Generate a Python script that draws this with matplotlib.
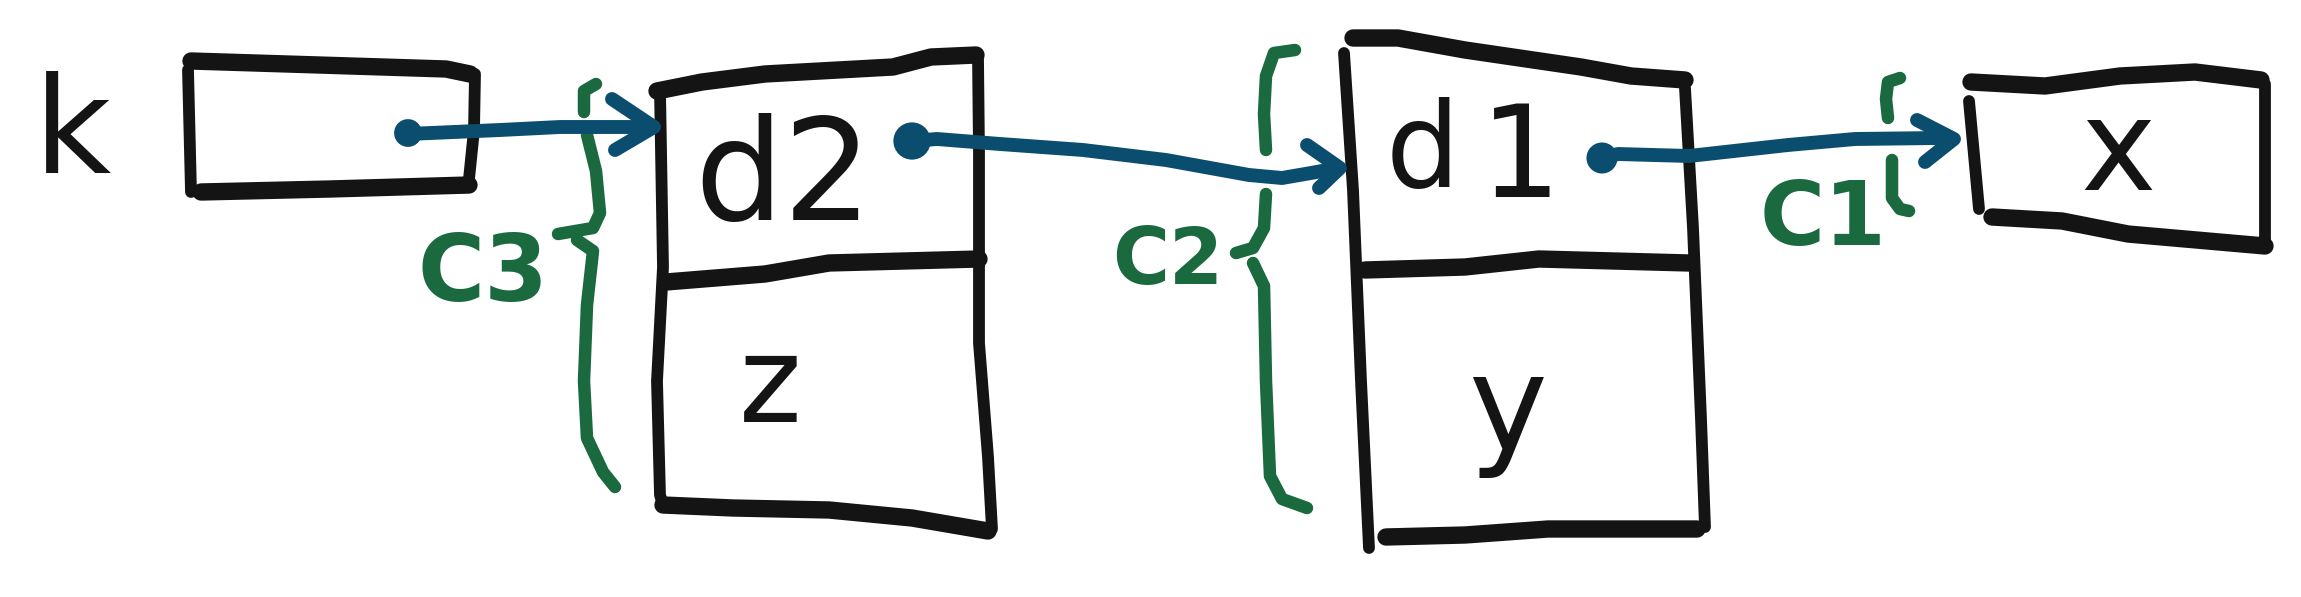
import matplotlib
import matplotlib.pyplot as plt

matplotlib.use("Agg")

# ink colours
BLACK = "#141414"
BLUE = "#0b4d6e"
GREEN = "#1b6a3f"

# hand-drawn outline strokes (pixel coords of the sketch, y grows downward)
box_k = [
    [(191, 61), (319, 65), (446, 69), (470, 74)],
    [(188, 70), (191, 192)],
    [(475, 74), (474, 130), (469, 179)],
    [(201, 192), (330, 189), (469, 185)],
]
node_d2 = [
    [(657, 91), (702, 82), (765, 74), (893, 67), (931, 57), (976, 55)],
    [(660, 91), (663, 267), (657, 381), (660, 495), (663, 505)],
    [(978, 57), (979, 152), (979, 343), (988, 457), (992, 529)],
    [(663, 505), (733, 508), (829, 510), (912, 518), (988, 531)],
    [(666, 282), (765, 274), (829, 263), (979, 259)],
]
node_d1 = [
    [(1353, 38), (1398, 38), (1465, 50), (1581, 67), (1631, 76), (1685, 80)],
    [(1344, 53), (1353, 190), (1361, 381), (1369, 548)],
    [(1685, 88), (1693, 228), (1701, 419), (1705, 527)],
    [(1365, 270), (1465, 267), (1539, 259), (1689, 263)],
    [(1386, 537), (1465, 535), (1548, 529), (1697, 529)],
]
box_x = [
    [(1971, 82), (2045, 86), (2120, 76), (2195, 72), (2261, 80)],
    [(1969, 101), (1979, 209)],
    [(2265, 84), (2265, 244)],
    [(1992, 217), (2062, 221), (2128, 234), (2265, 246)],
]

# pointers: dot, shaft, arrow head
dots = [(408, 133), (912, 141), (1602, 158)]
dot_sizes = [400, 720, 500]
shafts = [
    [(408, 134), (500, 130), (560, 127), (640, 127)],
    [(912, 141), (937, 139), (1000, 144), (1083, 150), (1166, 160), (1249, 175), (1282, 178), (1311, 173), (1338, 168)],
    [(1602, 158), (1618, 154), (1689, 156), (1788, 145), (1855, 139), (1938, 138), (1952, 139)],
]
heads = [
    [(612, 99), (654, 127), (615, 150)],
    [(1307, 145), (1340, 168), (1319, 188)],
    [(1917, 120), (1954, 139), (1925, 162)],
]

# curly braces (pieces split where the arrows go through)
braces = [
    [(596, 84), (584, 91), (584, 112)],
    [(587, 135), (596, 171), (600, 213), (593, 228), (558, 234)],
    [(577, 240), (593, 251), (587, 305), (584, 381), (587, 438), (603, 472), (615, 487)],
    [(1295, 50), (1274, 53), (1266, 76), (1264, 114), (1266, 150)],
    [(1266, 194), (1264, 228), (1253, 248), (1236, 253)],
    [(1253, 263), (1264, 286), (1266, 381), (1270, 476), (1282, 499), (1307, 508)],
    [(1900, 78), (1888, 82), (1886, 99), (1888, 118)],
    [(1892, 160), (1892, 198), (1900, 209), (1909, 211)],
]

# text: label, centre x, baseline y, size, colour
labels = ["k", "d2", "z", "d", "1", "y", "x", "C3", "C2", "C1"]
label_x = [72, 783, 770, 1423, 1521, 1508, 2118, 483, 1168, 1823]
label_y = [173, 220, 422, 186, 197, 450, 190, 301, 284, 245]
label_size = [96, 101, 86, 84, 92, 96, 92, 66, 56, 64]
label_color = [BLACK] * 7 + [GREEN] * 3
label_weight = ["normal"] * 7 + ["bold"] * 3


def stroke(ax, pts, color, lw):
    xs = [p[0] for p in pts]
    ys = [p[1] for p in pts]
    ax.plot(xs, ys, color=color, linewidth=lw,
            solid_capstyle="round", solid_joinstyle="round")


fig = plt.figure(figsize=(23.01, 5.97), dpi=100)
ax = fig.add_axes([0, 0, 1, 1])
ax.set_xlim(0, 2301)
ax.set_ylim(597, 0)
ax.axis("off")

for shape in [box_k, node_d2, node_d1, box_x]:
    for s in shape:
        flat = abs(s[-1][0] - s[0][0]) > abs(s[-1][1] - s[0][1])
        stroke(ax, s, BLACK, 12.5 if flat else 8.5)

for s in braces:
    stroke(ax, s, GREEN, 9)

for s in shafts:
    stroke(ax, s, BLUE, 10)
for s in heads:
    stroke(ax, s, BLUE, 10)
ax.scatter([d[0] for d in dots], [d[1] for d in dots], s=dot_sizes,
           color=BLUE, zorder=3, linewidths=0)

for t, x, y, fs, c, w in zip(labels, label_x, label_y, label_size,
                             label_color, label_weight):
    ax.text(x, y, t, fontsize=fs, color=c, ha="center", va="baseline",
            family="DejaVu Sans", fontweight=w)

plt.savefig("out.png", dpi=100)
